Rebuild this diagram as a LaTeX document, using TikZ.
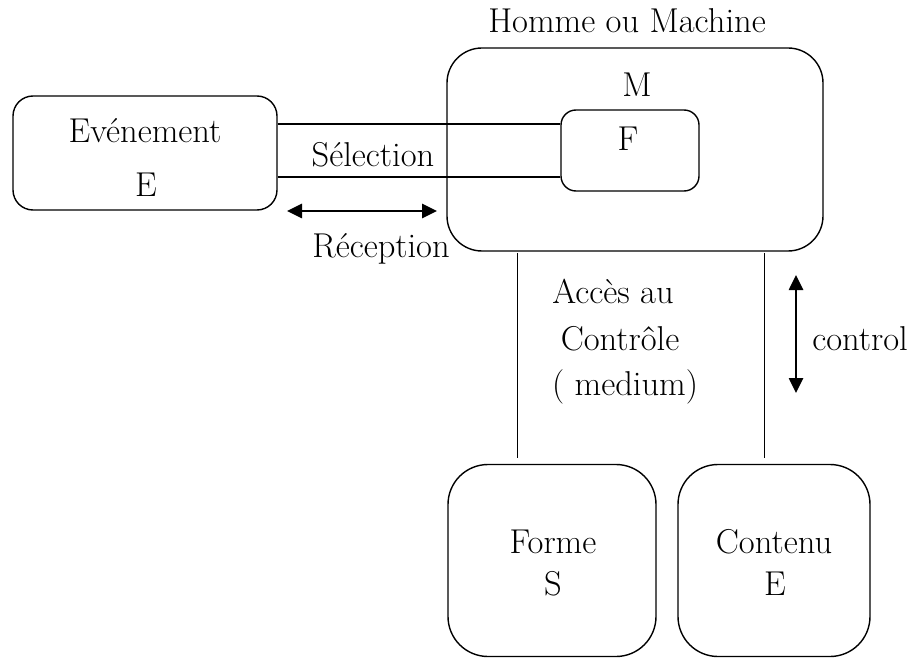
\documentclass[tikz,border=0pt]{standalone}
\usetikzlibrary{arrows.meta}
\begin{document}
\begin{tikzpicture}[x=1pt,y=-1pt,
  box/.style={draw,line width=1.4pt,rounded corners=#1,inner sep=0pt},
  lbl/.style={anchor=base,inner sep=0pt,font=\fontsize{34.5}{40}\selectfont},
  conn/.style={line width=1.2pt},
  vline/.style={line width=1pt},
  dbl/.style={line width=2.6pt,{Triangle[length=15pt,width=14pt]}-{Triangle[length=15pt,width=14pt]}}]
\useasboundingbox (0,0) rectangle (914,658);
% boxes
\node[box=20pt,minimum width=264pt,minimum height=114pt] (ev) at (145,153) {};
\node[box=35pt,minimum width=376pt,minimum height=203pt] (m) at (635,149.5) {};
\node[box=15pt,minimum width=138pt,minimum height=81pt] (f) at (630,150.5) {};
\node[box=40pt,minimum width=208pt,minimum height=192pt] (forme) at (552,560.5) {};
\node[box=40pt,minimum width=192pt,minimum height=192pt] (contenu) at (774,560.5) {};
% labels
\node[lbl] (tHM) at (627,33) {Homme ou Machine};
\node[lbl] (tM) at (637,97) {M};
\node[lbl] (tF) at (628,151) {F};
\node[lbl] (tEv) at (145,143) {Evénement};
\node[lbl] (tE1) at (146,197) {E};
\node[lbl] (tSel) at (373,167) {Sélection};
\node[lbl] (tRec) at (381,258) {Réception};
\node[lbl] (tAcc) at (613,303) {Accès au};
\node[lbl] (tCon) at (620,350) {Contrôle};
\node[lbl] (tMed) at (625,395) {( medium)};
\node[lbl] (tCtl) at (860,350) {control};
\node[lbl] (tFo) at (553,553) {Forme};
\node[lbl] (tS) at (553,595) {S};
\node[lbl] (tCo) at (774,553) {Contenu};
\node[lbl] (tE2) at (775,595) {E};
% selection lines
\draw[conn] ([yshift=29pt]ev.east) -- ([yshift=29pt]ev.east -| f.west);
\draw[conn] ([yshift=-24pt]ev.east) -- ([yshift=-24pt]ev.east -| f.west);
% vertical lines
\coordinate (v1t) at (517,253);
\coordinate (v1b) at (517,458);
\coordinate (v2t) at (764,253);
\coordinate (v2b) at (764,458);
\draw[vline] (v1t) -- (v1b);
\draw[vline] (v2t) -- (v2b);
% arrows
\coordinate (r1) at (287,211);
\coordinate (r2) at (437,211);
\draw[dbl] (r1) -- (r2);
\coordinate (c1) at (796,275);
\coordinate (c2) at (796,393);
\draw[dbl] (c1) -- (c2);
\end{tikzpicture}
\end{document}
